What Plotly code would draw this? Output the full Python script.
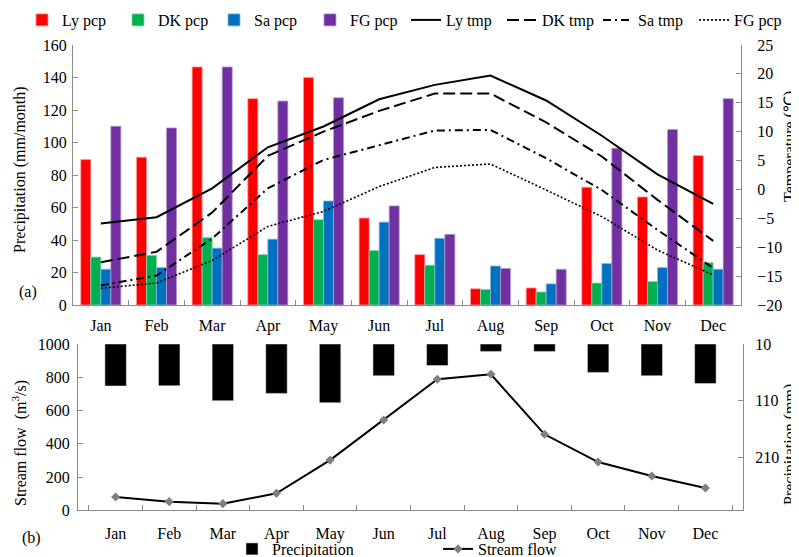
import plotly.graph_objects as go

months = ["Jan", "Feb", "Mar", "Apr", "May", "Jun", "Jul", "Aug", "Sep", "Oct", "Nov", "Dec"]

# Panel (a): monthly precipitation (mm/month)
ly_pcp = [89.5, 91, 146.5, 127, 140, 53.5, 31, 10, 10.5, 72.5, 66.5, 92]
dk_pcp = [29.5, 30.5, 41.5, 31, 52.5, 33.5, 24.5, 9.5, 8, 13.5, 14.5, 26]
sa_pcp = [22, 23, 35, 40.5, 64, 51, 41, 24, 13, 25.5, 23, 22]
fg_pcp = [110, 109, 146.5, 125.5, 127.5, 61, 43.5, 22.5, 22, 96.5, 108, 127]

# Panel (a): monthly temperature (deg C)
ly_tmp = [-5.9, -4.8, 0.2, 7.3, 10.9, 15.6, 18.1, 19.7, 15.4, 9.3, 2.6, -2.5]
dk_tmp = [-12.6, -10.8, -4.0, 5.8, 10.0, 13.6, 16.6, 16.6, 11.6, 5.7, -1.8, -8.9]
sa_tmp = [-16.6, -14.9, -8.5, 0.2, 5.1, 7.7, 10.2, 10.3, 5.4, -0.1, -7.0, -13.6]
fg_tmp = [-17.1, -16.2, -12.3, -6.4, -3.8, 0.5, 3.8, 4.4, -0.1, -4.7, -10.5, -14.8]

# Panel (b)
basin_pcp = [74, 73.5, 100, 87, 103.5, 56, 38, 13, 13, 50, 56, 69.5]
stream_flow = [80, 52, 40, 102, 302, 543, 788, 818, 457, 290, 206, 134]

FONT = "Liberation Serif"
AX = "#8c8c8c"
OFF = 8  # page body margin
W, H = 799.0 - OFF, 557.0 - OFF

fig = go.Figure()

bar_specs = [
    ("Ly pcp", ly_pcp, "#FF0000", "#ff9a9a"),
    ("DK pcp", dk_pcp, "#00B050", "#80d8a8"),
    ("Sa pcp", sa_pcp, "#0070C0", "#80b8e0"),
    ("FG pcp", fg_pcp, "#7030A0", "#b898d0"),
]
for name, vals, col, lc in bar_specs:
    fig.add_trace(go.Bar(x=months, y=vals, name=name, marker=dict(color=col, line=dict(color=lc, width=0.8)),
                         xaxis="x", yaxis="y", legend="legend"))

line_specs = [
    ("Ly tmp", ly_tmp, "solid", 2),
    ("DK tmp", dk_tmp, "12px,5px", 2),
    ("Sa tmp", sa_tmp, "8px,4px,2px,4px", 2),
    ("FG pcp", fg_tmp, "2px,2px", 1.6),
]
for name, vals, dash, w in line_specs:
    fig.add_trace(go.Scatter(x=months, y=vals, name=name, mode="lines",
                             line=dict(color="black", width=w, dash=dash),
                             xaxis="x", yaxis="y2", legend="legend"))

fig.add_trace(go.Bar(x=months, y=basin_pcp, base=10, width=0.4, name="Precipitation",
                     marker=dict(color="black"), xaxis="x2", yaxis="y4", legend="legend2"))
fig.add_trace(go.Scatter(x=months, y=stream_flow, name="Stream flow", mode="lines+markers",
                         line=dict(color="black", width=2),
                         marker=dict(symbol="diamond", size=7, color="#7f7f7f"),
                         xaxis="x2", yaxis="y3", legend="legend2"))


def py(p):
    return 1 - (p - OFF) / H


def pxx(p):
    return (p - OFF) / W


common = dict(showline=True, linecolor=AX, linewidth=1, ticks="inside", ticklen=5, tickcolor=AX,
              showgrid=False, zeroline=False, tickfont=dict(family=FONT, size=16, color="black"))

fig.update_layout(
    width=int(W), height=int(H),
    margin=dict(l=0, r=0, t=0, b=0, autoexpand=False),
    paper_bgcolor="white", plot_bgcolor="white",
    font=dict(family=FONT, size=16, color="black"),
    barmode="group", bargap=0.28, bargroupgap=0,
    xaxis=dict(domain=[pxx(73), pxx(741)], anchor="y", type="category", tickson="boundaries",
               ticklabelstandoff=6, **common),
    yaxis=dict(domain=[py(305), py(45)], anchor="x", range=[0, 160], dtick=20,
               ticklabelstandoff=2, **common),
    yaxis2=dict(overlaying="y", side="right", anchor="x", range=[-20, 25], dtick=5,
                ticklabelstandoff=12, **common),
    xaxis2=dict(domain=[pxx(78), pxx(743)], anchor="y3", type="category", tickson="boundaries",
                ticklabelstandoff=8, **common),
    yaxis3=dict(domain=[py(510.3), py(344)], anchor="x2", range=[0, 1000], dtick=200,
                ticklabelstandoff=4, **common),
    yaxis4=dict(overlaying="y3", side="right", anchor="x2", range=[303, 10],
                tickvals=[10, 110, 210], ticklabelstandoff=8, **common),
    legend=dict(orientation="h", x=pxx(22), xanchor="left", y=py(20), yanchor="middle",
                font=dict(family=FONT, size=16), bgcolor="rgba(0,0,0,0)", entrywidth=51,
                traceorder="normal"),
    legend2=dict(orientation="h", x=pxx(232), xanchor="left", y=py(549), yanchor="middle",
                 font=dict(family=FONT, size=16), bgcolor="rgba(0,0,0,0)", entrywidth=161,
                 traceorder="normal"),
)

annots = [
    dict(text="Precipitation (mm/month)", x=pxx(20), y=py(170), textangle=-90),
    dict(text="Temperature (℃)", x=pxx(790), y=py(147), textangle=-90),
    dict(text="Stream flow  (m<sup>3</sup>/s)", x=pxx(19), y=py(443), textangle=-90),
    dict(text="Precipitation (mm)", x=pxx(790), y=py(445), textangle=-90),
    dict(text="(a)", x=pxx(28), y=py(292), textangle=0),
    dict(text="(b)", x=pxx(31), y=py(538), textangle=0),
]
for a in annots:
    fig.add_annotation(xref="paper", yref="paper", showarrow=False, xanchor="center", yanchor="middle",
                       font=dict(family=FONT, size=16, color="black"), **a)

fig.write_html("out.html")
